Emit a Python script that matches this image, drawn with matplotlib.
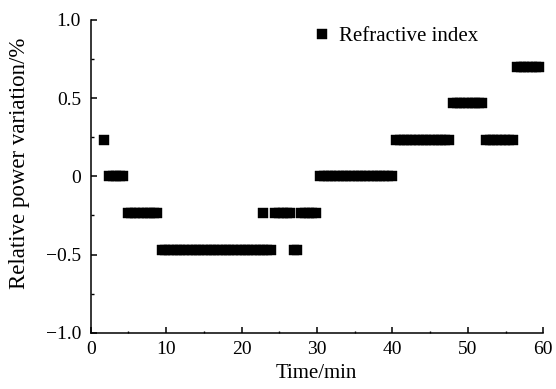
import matplotlib
matplotlib.use("Agg")
import matplotlib.pyplot as plt
from matplotlib.ticker import MultipleLocator, FixedLocator, FixedFormatter

plt.rcParams['font.family'] = ['Liberation Serif', 'DejaVu Serif']
plt.rcParams['mathtext.fontset'] = 'stix'

# Data: time (min) and relative power variation (%)
time_min = [
    1.7,
    2.4, 2.9, 3.4, 3.9, 4.3,
    4.9, 5.4, 5.9, 6.4, 6.9, 7.4, 7.9, 8.4, 8.8,
    9.4, 9.9, 10.4, 10.9, 11.4, 11.9, 12.4, 12.9, 13.4, 13.9, 14.4, 14.9,
    15.4, 15.9, 16.4, 16.9, 17.4, 17.9, 18.4, 18.9, 19.4, 19.9, 20.4, 20.9,
    21.4, 21.9, 22.4, 22.9, 23.4, 23.9,
    22.9,
    24.5, 25.0, 25.5, 26.0, 26.4,
    26.9, 27.4,
    27.9, 28.4, 28.9, 29.4, 29.9,
    30.4, 30.9, 31.4, 31.9, 32.4, 32.9, 33.4, 33.9, 34.4, 34.9, 35.4, 35.9,
    36.4, 36.9, 37.4, 37.9, 38.4, 38.9, 39.4, 39.9,
    40.5, 41.0, 41.5, 42.0, 42.5, 43.0, 43.5, 44.0, 44.5, 45.0, 45.5, 46.0,
    46.5, 47.0, 47.5,
    48.0, 48.5, 49.0, 49.5, 50.0, 50.5, 51.0, 51.5, 51.9,
    52.4, 52.9, 53.4, 53.9, 54.4, 54.9, 55.4, 56.0,
    56.5, 57.0, 57.5, 58.0, 58.5, 59.0, 59.4,
]
power_var = [
    0.234,
    0.0, 0.0, 0.0, 0.0, 0.0,
    -0.234, -0.234, -0.234, -0.234, -0.234, -0.234, -0.234, -0.234, -0.234,
    -0.468, -0.468, -0.468, -0.468, -0.468, -0.468, -0.468, -0.468, -0.468, -0.468, -0.468, -0.468,
    -0.468, -0.468, -0.468, -0.468, -0.468, -0.468, -0.468, -0.468, -0.468, -0.468, -0.468, -0.468,
    -0.468, -0.468, -0.468, -0.468, -0.468, -0.468,
    -0.234,
    -0.234, -0.234, -0.234, -0.234, -0.234,
    -0.468, -0.468,
    -0.234, -0.234, -0.234, -0.234, -0.234,
    0.0, 0.0, 0.0, 0.0, 0.0, 0.0, 0.0, 0.0, 0.0, 0.0, 0.0, 0.0,
    0.0, 0.0, 0.0, 0.0, 0.0, 0.0, 0.0, 0.0,
    0.234, 0.234, 0.234, 0.234, 0.234, 0.234, 0.234, 0.234, 0.234, 0.234, 0.234, 0.234,
    0.234, 0.234, 0.234,
    0.468, 0.468, 0.468, 0.468, 0.468, 0.468, 0.468, 0.468, 0.468,
    0.234, 0.234, 0.234, 0.234, 0.234, 0.234, 0.234, 0.234,
    0.702, 0.702, 0.702, 0.702, 0.702, 0.702, 0.702,
]

series_label = "Refractive index"
x_label = "Time/min"
y_label = "Relative power variation/%"
y_tick_values = [-1.0, -0.5, 0.0, 0.5, 1.0]
y_tick_labels = ["\u22121.0", "\u22120.5", "0", "0.5", "1.0"]
x_tick_values = [0, 10, 20, 30, 40, 50, 60]

fig = plt.figure(figsize=(5.56, 3.89), dpi=100)
ax = fig.add_axes([0.1631, 0.1447, 0.814, 0.804])

ax.plot(time_min, power_var, linestyle='none', marker='s', markersize=6.9,
        markerfacecolor='black', markeredgecolor='black', markeredgewidth=0.3,
        label=series_label, clip_on=False)

ax.set_xlim(0, 60)
ax.set_ylim(-1.0, 1.0)
ax.xaxis.set_major_locator(FixedLocator(x_tick_values))
ax.xaxis.set_minor_locator(MultipleLocator(5))
ax.yaxis.set_major_locator(FixedLocator(y_tick_values))
ax.yaxis.set_major_formatter(FixedFormatter(y_tick_labels))
ax.yaxis.set_minor_locator(MultipleLocator(0.25))

ax.spines['top'].set_visible(False)
ax.spines['right'].set_visible(False)
for s in ('left', 'bottom'):
    ax.spines[s].set_linewidth(1.1)

ax.tick_params(which='major', direction='in', length=4, width=1.1, labelsize=14)
ax.tick_params(which='minor', direction='in', length=1.8, width=1.0)
ax.tick_params(axis='y', which='major', pad=7)
ax.tick_params(axis='x', which='major', pad=6)

ax.set_xlabel(x_label, fontsize=15)
ax.xaxis.set_label_coords(0.498, -0.1)
ax.set_ylabel(y_label, fontsize=16.5)
ax.yaxis.set_label_coords(-0.135, 0.543)

ax.legend(loc='center left', bbox_to_anchor=(0.497, 0.947), frameon=False,
          fontsize=15, handletextpad=0.53, markerscale=1.0, borderpad=0,
          borderaxespad=0, handlelength=0.6)

fig.savefig("out.png", dpi=100)
